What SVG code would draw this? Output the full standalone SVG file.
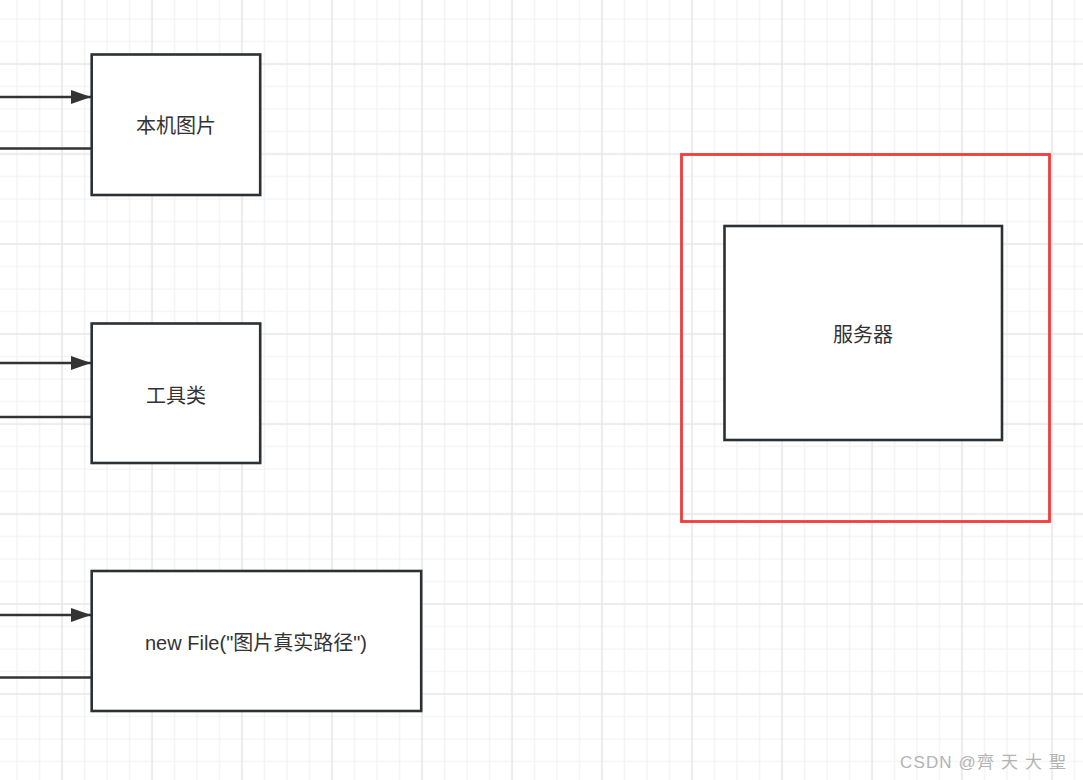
<svg xmlns="http://www.w3.org/2000/svg" width="1083" height="780" viewBox="0 0 1083 780">
<style>
.node{fill:#fff;stroke:#2b3035;stroke-width:2.6}
.lbl{font-family:"Liberation Sans","Noto Sans CJK SC",sans-serif;font-size:20px;fill:#333;text-anchor:middle}
.conn{stroke:#333;stroke-width:2.6;fill:none}
.wm{font-family:"Liberation Sans","Noto Sans CJK SC",sans-serif;font-size:17px;fill:#b3b3b3}
</style>
<defs>
<pattern id="grid" patternUnits="userSpaceOnUse" x="5.75" y="7.75" width="90" height="90">
<path d="M11.25 0V90M33.75 0V90M78.75 0V90M0 11.25H90M0 33.75H90M0 78.75H90" stroke="#f1f1f1" stroke-width="1.2"/>
<path d="M56.25 0V90M0 56.25H90" stroke="#e6e6e6" stroke-width="1.6"/>
</pattern>
<marker id="arr" viewBox="0 0 20 14" refX="20" refY="7" markerWidth="20" markerHeight="14" markerUnits="userSpaceOnUse" orient="auto">
<path d="M0 0L20 7L0 14Z" fill="#333"/>
</marker>
</defs>
<rect width="1083" height="780" fill="#fff"/>
<rect width="1083" height="780" fill="url(#grid)"/>
<g id="connectors">
<path class="conn" d="M0 97H91" marker-end="url(#arr)"/>
<path class="conn" d="M0 148.5H91"/>
<path class="conn" d="M0 363H91" marker-end="url(#arr)"/>
<path class="conn" d="M0 417H91"/>
<path class="conn" d="M0 615H91" marker-end="url(#arr)"/>
<path class="conn" d="M0 677.5H91"/>
</g>
<g id="node-local-image">
<rect class="node" x="91.7" y="54.5" width="168.5" height="140.5"/>
<text class="lbl" x="176" y="133">本机图片</text>
</g>
<g id="node-tool-class">
<rect class="node" x="91.7" y="323.5" width="168.5" height="139.5"/>
<text class="lbl" x="176" y="403">工具类</text>
</g>
<g id="node-new-file">
<rect class="node" x="91.7" y="571" width="329.5" height="140"/>
<text class="lbl" x="256" y="649.5">new File("图片真实路径")</text>
</g>
<g id="node-server-frame">
<rect x="681.5" y="154.5" width="368" height="367" fill="none" stroke="#f23c3c" stroke-width="2.8"/>
</g>
<g id="node-server">
<rect class="node" x="724.5" y="226" width="277.5" height="214"/>
<text class="lbl" x="863" y="342">服务器</text>
</g>
<text class="wm" x="900" y="768" textLength="166">CSDN @齊 天 大 聖</text>
</svg>
